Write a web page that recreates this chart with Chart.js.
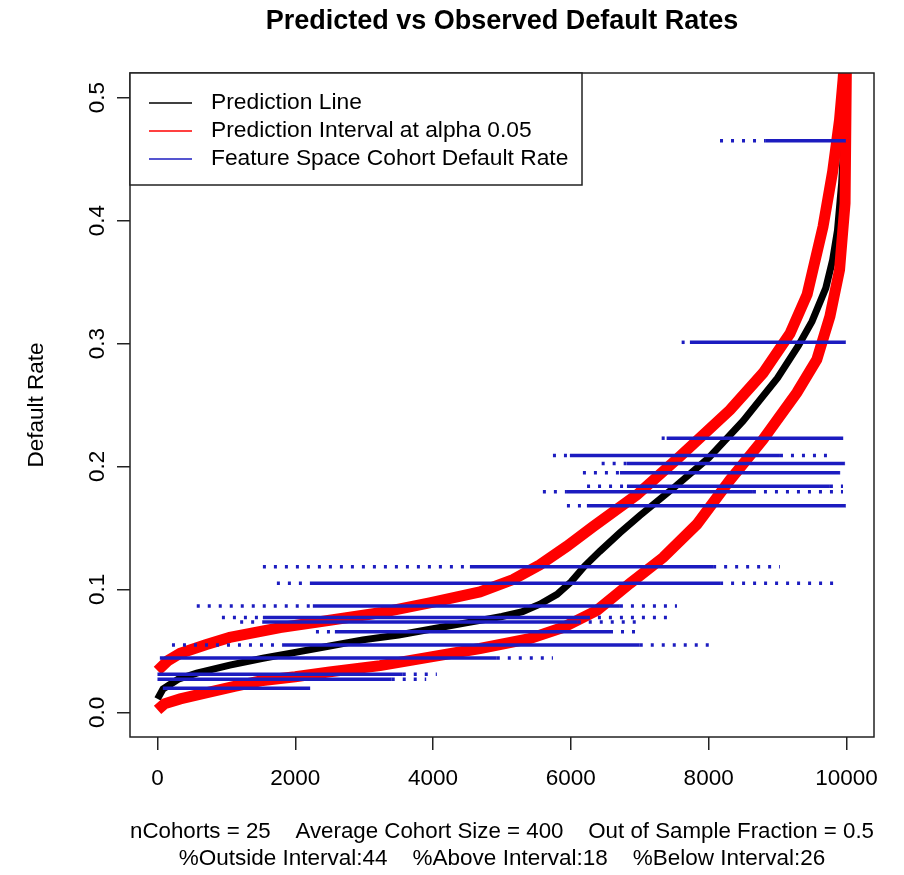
<!DOCTYPE html>
<html>
<head>
<meta charset="utf-8">
<script src="https://cdn.jsdelivr.net/npm/chart.js@4.4.1/dist/chart.umd.min.js"></script>
<style>
  body { margin: 0; background: #fff; }
  #wrap { width: 904px; height: 875px; }
</style>
</head>
<body>
<div id="wrap"><canvas id="chart" width="904" height="875"></canvas></div>
<script>
// prediction line, sorted by predicted rate
const predX = [1, 80, 300, 570, 1050, 1530, 2020, 2500, 2980, 3500, 4000, 4500, 5000, 5300, 5550, 5800, 6000, 6200, 6420, 6710, 7000, 7500, 8000, 8500, 9000, 9300, 9500, 9700, 9800, 9870, 9930, 9960, 9985, 10000];
const predY = [0.011, 0.019, 0.027, 0.032, 0.0385, 0.044, 0.049, 0.054, 0.059, 0.063, 0.068, 0.073, 0.078, 0.082, 0.088, 0.096, 0.106, 0.119, 0.131, 0.146, 0.160, 0.183, 0.207, 0.237, 0.272, 0.298, 0.318, 0.345, 0.368, 0.392, 0.430, 0.460, 0.500, 0.540];

// prediction interval bounds
const upperX = [1, 150, 330, 700, 1050, 1780, 2500, 3230, 3950, 4680, 5160, 5550, 5940, 6320, 6960, 7580, 8310, 8790, 9180, 9430, 9660, 9800, 9900, 9950, 9990];
const upperY = [0.034, 0.042, 0.048, 0.055, 0.061, 0.069, 0.075, 0.081, 0.089, 0.098, 0.108, 0.120, 0.135, 0.151, 0.177, 0.208, 0.246, 0.276, 0.308, 0.340, 0.395, 0.440, 0.482, 0.514, 0.545];
const lowerX = [1, 100, 330, 720, 1100, 1530, 2000, 2500, 3230, 3950, 4680, 5400, 5880, 6380, 6860, 7340, 7830, 8310, 8790, 9280, 9570, 9760, 9900, 9980, 10000];
const lowerY = [0.002, 0.007, 0.011, 0.016, 0.021, 0.026, 0.029, 0.033, 0.038, 0.045, 0.052, 0.060, 0.069, 0.083, 0.105, 0.126, 0.153, 0.189, 0.222, 0.260, 0.287, 0.322, 0.360, 0.414, 0.530];

// observed cohort default rates and the index ranges they cover
const cohortRate  = [0.465, 0.301, 0.223, 0.209, 0.2025, 0.195, 0.184, 0.1795, 0.168, 0.1185, 0.105, 0.0866, 0.0772, 0.0735, 0.0656, 0.0548, 0.0443, 0.031, 0.027, 0.0196];
const sparseStart = [8165, 7608, 7318, 5740, 6447, 6175, 6235, 5594, 5943, 1530, 1733, 570, 935, 1200, 2300, 210, 35, 0, 0, 78];
const denseStart  = [8820, 7728, 7390, 5986, 6814, 6712, 6814, 5943, 6233, 4535, 2212, 2255, 1530, 1530, 2575, 1820, 35, 0, 0, 78];
const denseEnd    = [9990, 9990, 9950, 9035, 9977, 9906, 9760, 8643, 9990, 8065, 8166, 6712, 6233, 6100, 6568, 7000, 4925, 3560, 3400, 2215];
const sparseEnd   = [9990, 9990, 9950, 9717, 9977, 9906, 9950, 9950, 9990, 9035, 9862, 7540, 7480, 7000, 7000, 8020, 5740, 4055, 3900, 2215];

const xTicks = [0, 2000, 4000, 6000, 8000, 10000];
const yTicks = [0, 0.1, 0.2, 0.3, 0.4, 0.5];

const titleText = 'Predicted vs Observed Default Rates';
const legendLabels = ['Prediction Line', 'Prediction Interval at alpha 0.05', 'Feature Space Cohort Default Rate'];
const subLines = [
  'nCohorts = 25    Average Cohort Size = 400    Out of Sample Fraction = 0.5',
  '%Outside Interval:44    %Above Interval:18    %Below Interval:26'
];

const FONT = "'Liberation Sans', Arial, Helvetica, sans-serif";
const BLUE = '#1c1cc0';
const RED = '#ff0000';
Chart.defaults.font.family = FONT;
Chart.defaults.color = '#000';

const pts = (xs, ys) => xs.map((x, i) => ({ x, y: ys[i] }));

const cohortSets = cohortRate.map((rate, i) => ({
  label: 'cohort ' + (i + 1),
  data: [
    { x: sparseStart[i], y: rate },
    { x: denseStart[i], y: rate },
    { x: denseEnd[i], y: rate },
    { x: sparseEnd[i], y: rate }
  ],
  showLine: true,
  borderColor: BLUE,
  borderWidth: 3.5,
  pointRadius: 0,
  clip: 0,
  segment: { borderDash: (ctx) => (ctx.p0DataIndex === 1 ? [] : [3, 8]) }
}));

// R-style title, frame and legend drawn over the plot
const framePlugin = {
  id: 'frame',
  afterDraw(chart) {
    const { ctx, chartArea: a } = chart;
    ctx.save();
    ctx.fillStyle = '#000';
    ctx.font = 'bold 27px ' + FONT;
    ctx.textAlign = 'center';
    ctx.textBaseline = 'middle';
    ctx.fillText(titleText, (a.left + a.right) / 2, 21.5);

    ctx.strokeStyle = '#222';
    ctx.lineWidth = 1.5;
    ctx.strokeRect(a.left, a.top, a.right - a.left, a.bottom - a.top);

    const lx = a.left, ly = a.top, lw = 452, lh = 112;
    ctx.fillStyle = '#fff';
    ctx.fillRect(lx, ly, lw, lh);
    ctx.strokeRect(lx, ly, lw, lh);
    const colors = ['#000', RED, BLUE];
    ctx.font = '22.8px ' + FONT;
    ctx.textAlign = 'left';
    legendLabels.forEach((t, i) => {
      const y = ly + 30 + i * 28;
      ctx.strokeStyle = colors[i];
      ctx.lineWidth = 1.5;
      ctx.beginPath();
      ctx.moveTo(lx + 19, y);
      ctx.lineTo(lx + 62, y);
      ctx.stroke();
      ctx.fillStyle = '#000';
      ctx.fillText(t, lx + 81, y);
    });
    ctx.restore();
  }
};

new Chart(document.getElementById('chart'), {
  type: 'scatter',
  data: {
    datasets: [
      ...cohortSets,
      { label: 'upper', data: pts(upperX, upperY), showLine: true, borderColor: RED, borderWidth: 11, pointRadius: 0, clip: 0 },
      { label: 'lower', data: pts(lowerX, lowerY), showLine: true, borderColor: RED, borderWidth: 11, pointRadius: 0, clip: 0 },
      { label: 'prediction', data: pts(predX, predY), showLine: true, borderColor: '#000', borderWidth: 7, pointRadius: 0, clip: 0 }
    ]
  },
  options: {
    responsive: false,
    animation: false,
    layout: { padding: { left: 0, right: 30, top: 73, bottom: 0 } },
    plugins: {
      legend: { display: false },
      tooltip: { enabled: false },
      title: { display: false }
    },
    scales: {
      x: {
        type: 'linear',
        min: -399,
        max: 10400,
        afterBuildTicks: (s) => { s.ticks = xTicks.map((v) => ({ value: v })); },
        afterFit: (s) => { s.height = 138; s.paddingLeft = 0; s.paddingRight = 0; },
        ticks: { font: { size: 22.5 }, color: '#000', padding: 15, maxRotation: 0, autoSkip: false, callback: (v) => String(v) },
        grid: { drawOnChartArea: false, drawTicks: true, tickLength: 13, color: '#222', lineWidth: 1.5 },
        border: { display: false },
        title: { display: true, text: subLines, font: { size: 22.5 }, color: '#000', padding: { top: 0, bottom: 3 } }
      },
      y: {
        type: 'linear',
        min: -0.02,
        max: 0.52,
        afterBuildTicks: (s) => { s.ticks = yTicks.map((v) => ({ value: v })); },
        afterFit: (s) => { s.width = 130; s.paddingTop = 0; s.paddingBottom = 0; },
        ticks: { font: { size: 22.5 }, color: '#000', padding: 4, minRotation: 90, maxRotation: 90, crossAlign: 'center', autoSkip: false, callback: (v) => v.toFixed(1) },
        grid: { drawOnChartArea: false, drawTicks: true, tickLength: 13, color: '#222', lineWidth: 1.5 },
        border: { display: false },
        title: { display: true, text: 'Default Rate', font: { size: 22.5 }, color: '#000', padding: { top: 23, bottom: 0 } }
      }
    }
  },
  plugins: [framePlugin]
});
</script>
</body>
</html>
